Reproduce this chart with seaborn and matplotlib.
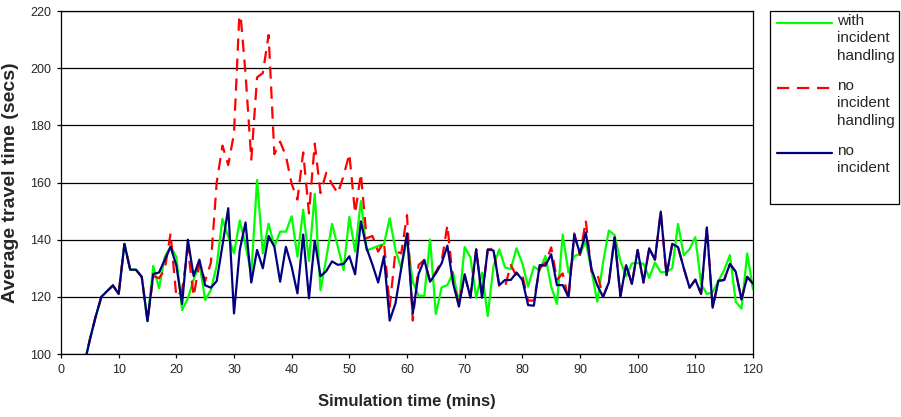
import numpy as np
import pandas as pd
import seaborn as sns
import matplotlib
matplotlib.use("Agg")
import matplotlib.pyplot as plt
from matplotlib.lines import Line2D
from matplotlib.patches import Rectangle

# ---- data (one sample per minute, t = 4..120) ----
minutes = list(range(4, 121))

with_handling = [
    96, 105, 113, 120, 122, 124, 121, 138.5, 129.5, 129.5,
    127, 111.5, 130.8, 123, 134, 137.6, 134, 115.4, 119.5, 126,
    131.7, 118.9, 122.4, 131, 147.3, 141, 135.2, 146.7, 138.1, 128,
    160.9, 135.2, 145.6, 137.6, 142.8, 142.8, 148.2, 134, 150.5, 132.5,
    156, 122.3, 133.5, 145.5, 137.6, 129.4, 148, 135.8, 153.5, 136.2,
    137, 137.8, 138.5, 147.5, 136.4, 130, 140.5, 125.3, 120.4, 120.3,
    140.1, 114, 123.3, 124.1, 128.5, 117.7, 137.4, 133.8, 119.7, 128.5,
    113.3, 130.8, 136.6, 130.3, 129.7, 137, 131.7, 123.6, 130.6, 129.2,
    134.3, 123.6, 117.5, 141.8, 128.5, 134.2, 135, 139.5, 129, 118.3,
    132, 143.2, 141.6, 132.5, 127.2, 131.7, 131.8, 131.6, 126.6, 132,
    128.6, 128.7, 130, 145.5, 134.5, 136.7, 140.9, 124.5, 121, 121.6,
    125.6, 129.4, 134.6, 118.3, 115.9, 135.2, 122.6,
]

no_handling = [
    96, 105, 113, 120, 122, 124, 121, 138.5, 129.5, 129.5,
    127, 111.5, 127.3, 126.5, 129.6, 142.2, 120, 122.2, 137, 120.2,
    131.7, 125.5, 132, 160, 172.9, 166.1, 177.2, 222, 198, 168,
    196.8, 198.3, 211.6, 169.9, 174.3, 169.3, 159.5, 154, 170.5, 149.2,
    173.6, 156.3, 163.4, 159.4, 156.2, 162.3, 170, 149.2, 163.1, 140.5,
    141.3, 135.8, 139.3, 116.5, 136, 135.2, 148.6, 111.7, 131.1, 132.9,
    125.3, 128.8, 132.3, 145.1, 125.3, 117.7, 127.3, 120, 136.6, 119.7,
    136.4, 137, 123.6, 123.6, 131.1, 127.3, 127.6, 118.7, 118.7, 130,
    132, 137.3, 126, 128.2, 119, 142.2, 134.6, 146.7, 128.8, 128.2,
    120, 125, 140.8, 120.2, 131.1, 124.5, 136.4, 125, 137, 133,
    149.8, 127.6, 138.5, 137.4, 130, 123.2, 126, 121, 144.3, 116.2,
    125.6, 125.9, 131.5, 128.8, 119.1, 127, 124.6,
]

no_incident = [
    96, 105, 113, 120, 122, 124, 121, 138.5, 129.5, 129.5,
    127, 111.5, 128, 128.5, 133, 137.5, 131, 117.5, 140, 127.3,
    133, 124, 123.2, 125.5, 138, 151, 114.2, 136.4, 146, 125,
    136.4, 130, 141.3, 137.5, 125.3, 137.5, 130.5, 121.2, 141.8, 119.5,
    139.6, 127.2, 129, 132.4, 131.2, 131.5, 134.2, 127.9, 146.4, 137,
    131.3, 125, 134.2, 111.7, 117.7, 130, 142.2, 114.2, 128, 132.9,
    125.3, 128.2, 131.7, 137.9, 124.7, 116.6, 127.9, 119.7, 136.6, 119.7,
    136.6, 136.2, 124.1, 125.9, 125.9, 128.5, 125.9, 117.1, 116.9, 131.1,
    130.9, 134.9, 124.1, 124.1, 120, 141.6, 135.2, 142.5, 129.7, 124,
    120, 125, 140.8, 120.2, 131.1, 124.5, 136.4, 125, 137, 133,
    149.8, 127.6, 138.5, 137.4, 130, 123.2, 126, 121, 144.3, 116.2,
    125.6, 125.9, 131.5, 128.8, 119.1, 127, 124.6,
]

labels = ["with\nincident\nhandling", "no\nincident\nhandling", "no\nincident"]
colors = ["#00ff00", "#ff0000", "#000080"]

sns.set_theme(style="white")
plt.rcParams["font.family"] = ["Liberation Sans", "DejaVu Sans"]

W, H = 901, 417
fig = plt.figure(figsize=(W / 100, H / 100), dpi=100)
ax = fig.add_axes([61 / W, 1 - 354 / H, (753 - 61) / W, (354 - 11) / H])

# draw in Excel series order so the later ones sit on top
series = [with_handling, no_handling, no_incident]
styles = ["-", (0, (5.5, 3.5)), "-"]
for vals, col, ls in zip(series, colors, styles):
    sns.lineplot(x=minutes, y=vals, color=col, linewidth=1.6, linestyle=ls, ax=ax)

ax.set_xlim(0, 120)
ax.set_ylim(100, 220)
ax.set_xticks(range(0, 121, 10))
ax.set_yticks(range(100, 221, 20))
ax.yaxis.grid(True, color="black", linewidth=0.9)
ax.xaxis.grid(False)
for sp in ax.spines.values():
    sp.set_color("black")
    sp.set_linewidth(0.9)
ax.tick_params(axis="both", direction="out", length=3, width=0.9, color="black",
               labelsize=9, pad=4, bottom=True, left=True)

ax.set_xlabel("Simulation time (mins)", fontsize=12, fontweight="bold", labelpad=13)
ax.set_ylabel("Average travel time (secs)", fontsize=14, fontweight="bold", labelpad=8)

# Excel-style legend box to the right of the plot
def fx(px):
    return px / W

def fy(py):
    return 1 - py / H

fig.add_artist(Rectangle((fx(770), fy(204)), fx(899) - fx(770), fy(11) - fy(204),
                         transform=fig.transFigure, fill=False, edgecolor="black",
                         linewidth=0.9))
for i, (lab, col, ls) in enumerate(zip(labels, colors, styles)):
    yy = 23 + 65 * i
    fig.add_artist(Line2D([fx(777), fx(832)], [fy(yy), fy(yy)], color=col,
                          linewidth=1.6, linestyle=ls, transform=fig.transFigure))
    fig.text(fx(837), fy(yy - 9), lab, fontsize=11, va="top", ha="left",
             linespacing=1.3)

fig.savefig("out.png", dpi=100)
